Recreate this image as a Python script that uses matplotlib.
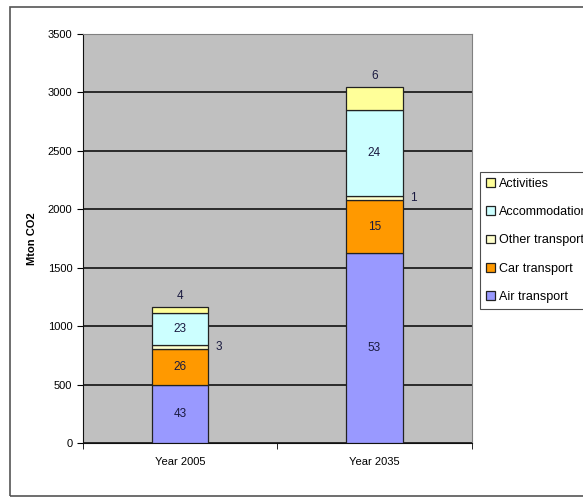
import matplotlib.pyplot as plt
from matplotlib.patches import Rectangle
import numpy as np

years = ["Year 2005", "Year 2035"]
series = ["Air transport", "Car transport", "Other transport", "Accommodation", "Activities"]
# Mton CO2 per segment
air = [500, 1620]
car = [300, 460]
other = [35, 35]
accom = [280, 730]
activ = [45, 195]
# percentage labels printed on the bars
pct_air = [43, 53]
pct_car = [26, 15]
pct_other = [3, 1]
pct_accom = [23, 24]
pct_activ = [4, 6]

colors = ["#9999FF", "#FF9900", "#FFFFCC", "#CCFFFF", "#FFFF99"]

plt.rcParams['font.family'] = ['Liberation Sans', 'DejaVu Sans']

fig = plt.figure(figsize=(5.83, 4.98), dpi=100)
ax = fig.add_axes([0.142, 0.1104, 0.667, 0.8223])
ax.set_facecolor("#C0C0C0")

# frame round the whole chart
fig.patches.append(Rectangle((10 / 583, 2 / 498), 1.2, 489 / 498, transform=fig.transFigure,
                             fill=False, edgecolor="#555555", linewidth=1.2))

x = np.arange(len(years))
w = 0.29
data = [air, car, other, accom, activ]
pcts = [pct_air, pct_car, pct_other, pct_accom, pct_activ]
bottom = np.zeros(len(years))
bars = []
for name, vals, col in zip(series, data, colors):
    b = ax.bar(x, vals, w, bottom=bottom, color=col, edgecolor="#222222",
               linewidth=0.9, label=name, zorder=3)
    bars.append(b)
    bottom = bottom + np.array(vals)

# labels inside the big segments
lbl_color = "#1a1a40"
base = np.zeros(len(years))
for i, (vals, p) in enumerate(zip(data, pcts)):
    for j in range(len(years)):
        mid = base[j] + vals[j] / 2
        if i in (0, 1, 3):
            ax.text(x[j], mid, str(p[j]), ha="center", va="center", fontsize=8.5,
                    color=lbl_color, zorder=4)
        elif i == 2:
            ax.text(x[j] + w / 2 + 0.04, mid, str(p[j]), ha="left", va="center",
                    fontsize=8.5, color=lbl_color, zorder=4)
        else:
            ax.text(x[j], base[j] + vals[j] + 45, str(p[j]), ha="center", va="bottom",
                    fontsize=8.5, color=lbl_color, zorder=4)
    base = base + np.array(vals)

ax.set_xlim(-0.5, 1.5)
ax.set_ylim(0, 3500)
ax.set_yticks(np.arange(0, 3501, 500))
ax.yaxis.grid(True, color="#111111", linewidth=1.2, zorder=1)
ax.set_axisbelow(True)
ax.set_xticks(x)
ax.set_xticklabels(years, fontsize=8)
ax.set_xticks([-0.5, 0.5, 1.5], minor=True)
ax.tick_params(axis="x", which="major", length=0, pad=10)
ax.tick_params(axis="x", which="minor", length=4, direction="out")
ax.tick_params(axis="y", labelsize=8, length=4, direction="out")
for s in ["top", "right"]:
    ax.spines[s].set_color("#808080")
for s in ["left", "bottom"]:
    ax.spines[s].set_color("#111111")

ax.set_ylabel("Mton CO2", fontsize=8, fontweight="bold", labelpad=8)

handles = [bars[k] for k in range(4, -1, -1)]
labels = [series[k] for k in range(4, -1, -1)]
leg = ax.legend(handles, labels, loc="center left", bbox_to_anchor=(1.022, 0.495),
                fontsize=9, frameon=True, fancybox=False, edgecolor="#222222",
                handlelength=0.7, handleheight=0.7, handletextpad=0.3,
                labelspacing=1.3, borderpad=0.5, borderaxespad=0)
leg.get_frame().set_linewidth(0.8)

fig.savefig("out.png", dpi=100)
